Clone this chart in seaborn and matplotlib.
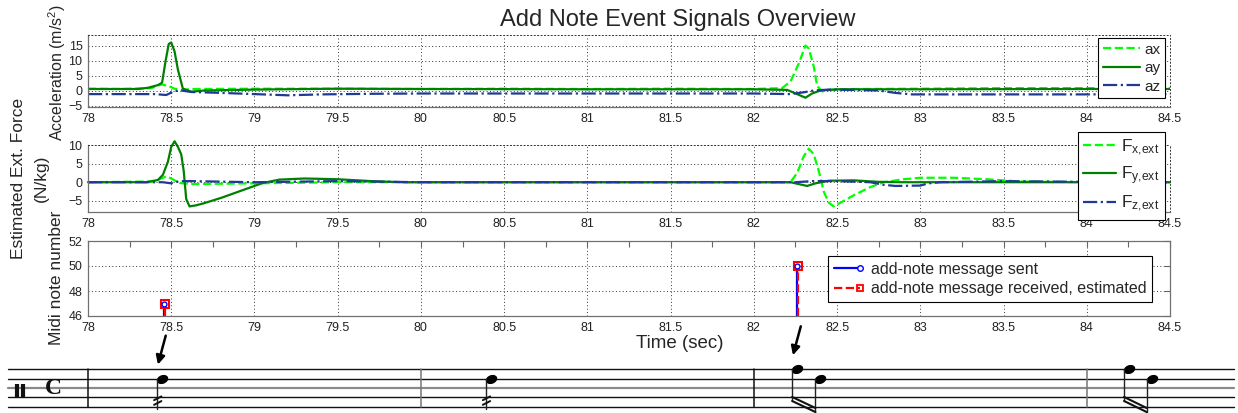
import numpy as np
import pandas as pd
import matplotlib
matplotlib.use("Agg")
import matplotlib.pyplot as plt
import seaborn as sns
from matplotlib.legend_handler import HandlerLine2D
from matplotlib.lines import Line2D
from matplotlib.path import Path
from matplotlib.transforms import Affine2D
from matplotlib.ticker import MultipleLocator

# acceleration (m/s^2)
acc_x_t = [78.0, 78.2, 78.38, 78.44, 78.48, 78.52, 78.56, 78.62, 79.0, 79.5, 80.0, 80.5, 81.0,
           81.5, 82.0, 82.17, 82.22, 82.27, 82.31, 82.33, 82.36, 82.38, 82.41, 82.46, 82.6,
           83.0, 83.5, 84.0, 84.5]
acc_x = [0.6, 0.5, 0.8, 2.0, 1.6, 0.6, 0.2, 0.5, 0.6, 0.6, 0.5, 0.6, 0.5,
         0.6, 0.5, 0.8, 3.0, 9.0, 15.0, 14.0, 8.0, 1.5, -0.3, 0.2, 0.5,
         0.6, 0.8, 0.8, 0.8]
acc_y_t = [78.0, 78.3, 78.36, 78.42, 78.445, 78.465, 78.485, 78.5, 78.52, 78.54, 78.57, 78.62,
           78.7, 79.0, 79.5, 80.0, 81.0, 82.0, 82.2, 82.26, 82.31, 82.35, 82.4, 82.5, 83.0,
           84.0, 84.5]
acc_y = [0.5, 0.5, 0.9, 1.8, 2.6, 9.5, 15.5, 16.0, 13.0, 7.0, 0.6, -0.4,
         0.0, 0.3, 0.6, 0.5, 0.4, 0.4, 0.2, -1.2, -2.4, -1.0, 0.0, 0.4, 0.4,
         0.5, 0.5]
acc_z_t = [78.0, 78.4, 78.47, 78.52, 78.56, 78.62, 78.8, 79.0, 79.2, 79.4, 79.7, 80.0, 81.0,
           82.0, 82.22, 82.3, 82.36, 82.45, 82.6, 82.75, 82.85, 82.95, 83.5, 84.0, 84.5]
acc_z = [-1.2, -1.2, -1.5, -0.2, 0.0, -0.5, -0.8, -1.2, -1.6, -1.3, -1.1, -1.0, -1.0,
         -1.0, -1.2, -0.6, 0.0, 0.3, 0.2, 0.0, -0.8, -1.3, -1.3, -1.3, -1.2]

# estimated external force (N/kg)
f_x_t = [78.0, 78.4, 78.47, 78.5, 78.55, 78.62, 79.0, 79.5, 80.0, 81.0, 82.0, 82.22, 82.26,
         82.3, 82.33, 82.36, 82.39, 82.42, 82.45, 82.48, 82.52, 82.6, 82.7, 82.78, 82.9,
         83.0, 83.2, 83.4, 83.6, 84.0, 84.5]
f_x = [0.0, 0.2, 1.6, 1.0, -0.2, -0.5, -0.3, 0.0, 0.0, 0.0, 0.0, 0.0, 2.5,
       7.0, 9.0, 7.5, 3.0, -2.5, -5.5, -6.5, -5.5, -3.5, -1.3, 0.0, 0.8,
       1.2, 1.2, 0.8, 0.2, 0.0, 0.0]
f_y_t = [78.0, 78.35, 78.42, 78.45, 78.48, 78.5, 78.52, 78.54, 78.56, 78.575, 78.59, 78.61,
         78.65, 78.7, 78.8, 78.9, 79.0, 79.05, 79.15, 79.3, 79.5, 79.7, 79.9, 80.5, 81.0,
         82.0, 82.22, 82.27, 82.32, 82.37, 82.45, 82.6, 82.75, 82.9, 83.5, 84.0, 84.5]
f_y = [0.0, 0.0, 0.6, 2.0, 5.5, 9.5, 11.0, 9.5, 7.5, 3.0, -4.5, -6.5,
       -6.2, -5.6, -4.2, -2.6, -1.0, -0.2, 0.7, 1.0, 0.8, 0.3, 0.0, 0.0, 0.0,
       0.0, 0.0, -0.5, -1.0, -0.3, 0.4, 0.5, 0.1, 0.0, 0.0, 0.0, 0.0]
f_z_t = [78.0, 78.45, 78.5, 78.55, 78.62, 79.0, 79.5, 80.0, 81.0, 82.0, 82.25, 82.35, 82.5,
         82.7, 82.78, 82.85, 83.0, 83.05, 83.12, 83.5, 84.0, 84.5]
f_z = [0.0, 0.0, -0.3, 0.3, 0.3, 0.0, 0.3, 0.0, 0.0, 0.0, 0.0, 0.3, 0.3,
       0.0, -0.7, -1.0, -0.9, -0.3, 0.0, 0.3, 0.1, 0.0]

# add-note events
sent_t = [78.455, 82.26]
sent_note = [47, 50]
recv_t = [78.46, 82.265]
recv_note = [47, 50]

x_ticks = [78, 78.5, 79, 79.5, 80, 80.5, 81, 81.5, 82, 82.5, 83, 83.5, 84, 84.5]
x_tick_labels = ['78', '78.5', '79', '79.5', '80', '80.5', '81', '81.5', '82', '82.5',
                 '83', '83.5', '84', '84.5']

# score excerpt under the plot (time in sec, pitch in staff steps)
bar_t = [78.0, 80.0, 82.0, 84.0]
single_t = [78.445, 80.42]
single_pos = [3, 3]
pair_t = [(82.26, 82.40), (84.254, 84.39)]
pair_pos = [(4, 3), (4, 3)]
arrow_t = [78.445, 82.26]
arrow_pos = [3, 4]

W, H = 1238, 413
GREEN_L = '#00ff00'
GREEN_D = '#008000'
NAVY = '#1f3a96'
GRID_LS = (0, (1, 2.5))


def rect(left, top, right, bottom):
    return [left / W, 1 - bottom / H, (right - left) / W, (bottom - top) / H]


def style_panel(ax, ylim, yticks, boxed=False):
    ax.set_xlim(78, 84.5)
    ax.set_ylim(*ylim)
    ax.set_xticks(x_ticks)
    ax.set_xticklabels(x_tick_labels)
    ax.xaxis.set_minor_locator(MultipleLocator(0.25))
    ax.set_yticks(yticks)
    ax.set_axisbelow(True)
    ax.grid(True, which='major', linestyle=GRID_LS, linewidth=0.7, color='#333333')
    ax.tick_params(which='both', direction='in', length=4.5, width=0.8, color='#666666',
                   labelsize=9, labelcolor='#222222', pad=4, top=boxed, right=boxed)
    for side, sp in ax.spines.items():
        sp.set_color('#707070')
        sp.set_linewidth(0.9)
        if not boxed and side in ('top', 'right'):
            sp.set_linestyle(GRID_LS)
            sp.set_color('#333333')
            sp.set_linewidth(0.7)
    ax.set_xlabel('')
    ax.set_ylabel('')


class EndMarker(HandlerLine2D):
    def create_artists(self, *args, **kwargs):
        arts = super().create_artists(*args, **kwargs)
        arts[0].set_markevery([2])
        return arts


sns.set_theme(style="white")
plt.rcParams['font.family'] = ['Liberation Sans', 'DejaVu Sans']
plt.rcParams['mathtext.fontset'] = 'custom'
plt.rcParams['mathtext.rm'] = 'Liberation Sans'
plt.rcParams['mathtext.it'] = 'Liberation Sans:italic'

fig = plt.figure(figsize=(W / 100, H / 100), dpi=100)
fig.patch.set_facecolor('white')

# --- acceleration ---
ax1 = fig.add_axes(rect(88, 35, 1170, 107))
sns.lineplot(x=acc_x_t, y=acc_x, ax=ax1, color=GREEN_L, linestyle='--', lw=1.6,
             errorbar=None, label='ax')
sns.lineplot(x=acc_y_t, y=acc_y, ax=ax1, color=GREEN_D, lw=1.6, errorbar=None, label='ay')
sns.lineplot(x=acc_z_t, y=acc_z, ax=ax1, color=NAVY, linestyle='-.', lw=1.6,
             errorbar=None, label='az')
style_panel(ax1, (-5.5, 18.5), [-5, 0, 5, 10, 15])
leg1 = ax1.legend(loc='upper right', bbox_to_anchor=(1165 / W, 1 - 38 / H),
                  bbox_transform=fig.transFigure, fontsize=11, frameon=True, fancybox=False,
                  edgecolor='black', framealpha=1, handlelength=2.4, handletextpad=0.3,
                  labelspacing=0.3, borderpad=0.3, borderaxespad=0)
leg1.get_frame().set_linewidth(0.8)

# --- force ---
ax2 = fig.add_axes(rect(88, 145, 1170, 212))
sns.lineplot(x=f_x_t, y=f_x, ax=ax2, color=GREEN_L, linestyle='--', lw=1.6,
             errorbar=None, label=r'F$_{\mathrm{x{,}ext}}$', clip_on=False)
sns.lineplot(x=f_y_t, y=f_y, ax=ax2, color=GREEN_D, lw=1.6, errorbar=None,
             label=r'F$_{\mathrm{y{,}ext}}$', clip_on=False)
sns.lineplot(x=f_z_t, y=f_z, ax=ax2, color=NAVY, linestyle='-.', lw=1.6, errorbar=None,
             label=r'F$_{\mathrm{z{,}ext}}$', clip_on=False)
style_panel(ax2, (-8, 10), [-5, 0, 5, 10])
leg2 = ax2.legend(loc='upper right', bbox_to_anchor=(1165 / W, 1 - 132 / H),
                  bbox_transform=fig.transFigure, fontsize=12.5, frameon=True, fancybox=False,
                  edgecolor='black', framealpha=1, handlelength=1.9, handletextpad=0.3,
                  labelspacing=0.4, borderpad=0.3, borderaxespad=0)
leg2.get_frame().set_linewidth(0.8)

# --- midi notes ---
ax3 = fig.add_axes(rect(88, 241, 1170, 316))
ml, sl, bl = ax3.stem(sent_t, sent_note, bottom=46, basefmt=' ')
plt.setp(sl, color='#0000ff', linewidth=1.6)
plt.setp(ml, color='#0000ff', marker='o', markersize=3.5, markerfacecolor='white',
         markeredgewidth=1.0, zorder=4)
ml2, sl2, bl2 = ax3.stem(recv_t, recv_note, bottom=46, basefmt=' ')
plt.setp(sl2, color='#ff0000', linewidth=1.6, linestyle='--')
plt.setp(ml2, color='#ff0000', marker='s', markersize=6, markerfacecolor='none',
         markeredgewidth=1.5, zorder=3)
style_panel(ax3, (46, 52), [46, 48, 50, 52], boxed=True)
h_sent = Line2D([], [], color='#0000ff', lw=1.6, marker='o', markersize=4,
                markerfacecolor='white', markeredgewidth=1.0)
h_recv = Line2D([], [], color='#ff0000', lw=1.6, linestyle='--', marker='s', markersize=5,
                markerfacecolor='none', markeredgewidth=1.3)
leg3 = ax3.legend([h_sent, h_recv], ['add-note message sent', 'add-note message received, estimated'],
                  handler_map={Line2D: EndMarker()}, numpoints=1,
                  loc='upper right', bbox_to_anchor=(1152 / W, 1 - 256 / H),
                  bbox_transform=fig.transFigure, fontsize=11.5, frameon=True, fancybox=False,
                  edgecolor='black', framealpha=1, handlelength=1.6, handletextpad=0.7,
                  labelspacing=0.3, borderpad=0.35, borderaxespad=0)
leg3.get_frame().set_linewidth(0.8)

# --- texts ---
fig.text(678 / W, 1 - 20 / H, 'Add Note Event Signals Overview', ha='center', va='center',
         fontsize=17)
fig.text(680 / W, 1 - 343 / H, 'Time (sec)', ha='center', va='center', fontsize=13.5)
fig.text(57 / W, 1 - 73 / H, 'Acceleration (m/s$^{2}$)', rotation=90, ha='center',
         va='center', fontsize=11.5)
fig.text(19 / W, 1 - 178 / H, 'Estimated Ext. Force', rotation=90, ha='center',
         va='center', fontsize=12.5)
fig.text(41 / W, 1 - 178 / H, '(N/kg)', rotation=90, ha='center', va='center', fontsize=12.5)
fig.text(57 / W, 1 - 278 / H, 'Midi note number', rotation=90, ha='center', va='center',
         fontsize=12.5)

# --- score excerpt ---
st = fig.add_axes(rect(88, 322, 1170, 413))
st.set_xlim(78, 84.5)
st.set_ylim(-0.674, 9.06)
st.axis('off')
for k in range(5):
    col, lw = ('#8a8a8a', 1.6) if k == 2 else ('#111111', 1.0)
    st.axhline(k, xmin=-0.074, xmax=1.059, color=col, lw=lw, clip_on=False)
for i, bt in enumerate(bar_t):
    st.plot([bt, bt], [0, 4], color='#111111' if i % 2 == 0 else '#777777', lw=1.1,
            clip_on=False)
# percussion clef + common time
for cx in (77.573, 77.609):
    st.plot([cx, cx], [1.0, 2.4], color='#111111', lw=3.0, solid_capstyle='butt',
            clip_on=False)
st.text(77.79, 1.95, 'C', ha='center', va='center', fontsize=17, fontweight='bold',
        family='Liberation Serif', color='#111111', clip_on=False)

head = Path.unit_circle().transformed(Affine2D().scale(1.3, 0.9).rotate_deg(22))
STEM = 0.030
for t, p in zip(single_t, single_pos):
    st.plot([t], [p], marker=head, markersize=7.5, color='black', ls='none')
    sx = t - STEM
    st.plot([sx, sx], [p, -0.2], color='#222222', lw=1.0, clip_on=False)
    for c in (0.9, 0.4):
        st.plot([sx - 0.018, sx + 0.026], [c - 0.2, c + 0.2], color='#111111', lw=1.4,
                clip_on=False)
for (t1, t2), (p1, p2) in zip(pair_t, pair_pos):
    st.plot([t1, t2], [p1, p2], marker=head, markersize=7.5, color='black', ls='none')
    s1, s2 = t1 - STEM, t2 - STEM
    st.plot([s1, s1], [p1, 0.61], color='#222222', lw=1.0, clip_on=False)
    st.plot([s2, s2], [p2, -0.57], color='#222222', lw=1.0, clip_on=False)
    st.plot([s1, s2], [1.04, -0.14], color='#111111', lw=1.5, clip_on=False)
    st.plot([s1, s2], [0.61, -0.57], color='#111111', lw=1.5, clip_on=False)
for t, p in zip(arrow_t, arrow_pos):
    st.annotate('', xy=(t - 0.025, p + 1.5), xytext=(t + 0.022, p + 4.6),
                arrowprops=dict(arrowstyle='-|>', color='black', lw=1.8, mutation_scale=13,
                                shrinkA=0, shrinkB=0),
                annotation_clip=False)

fig.savefig('out.png', dpi=100)
